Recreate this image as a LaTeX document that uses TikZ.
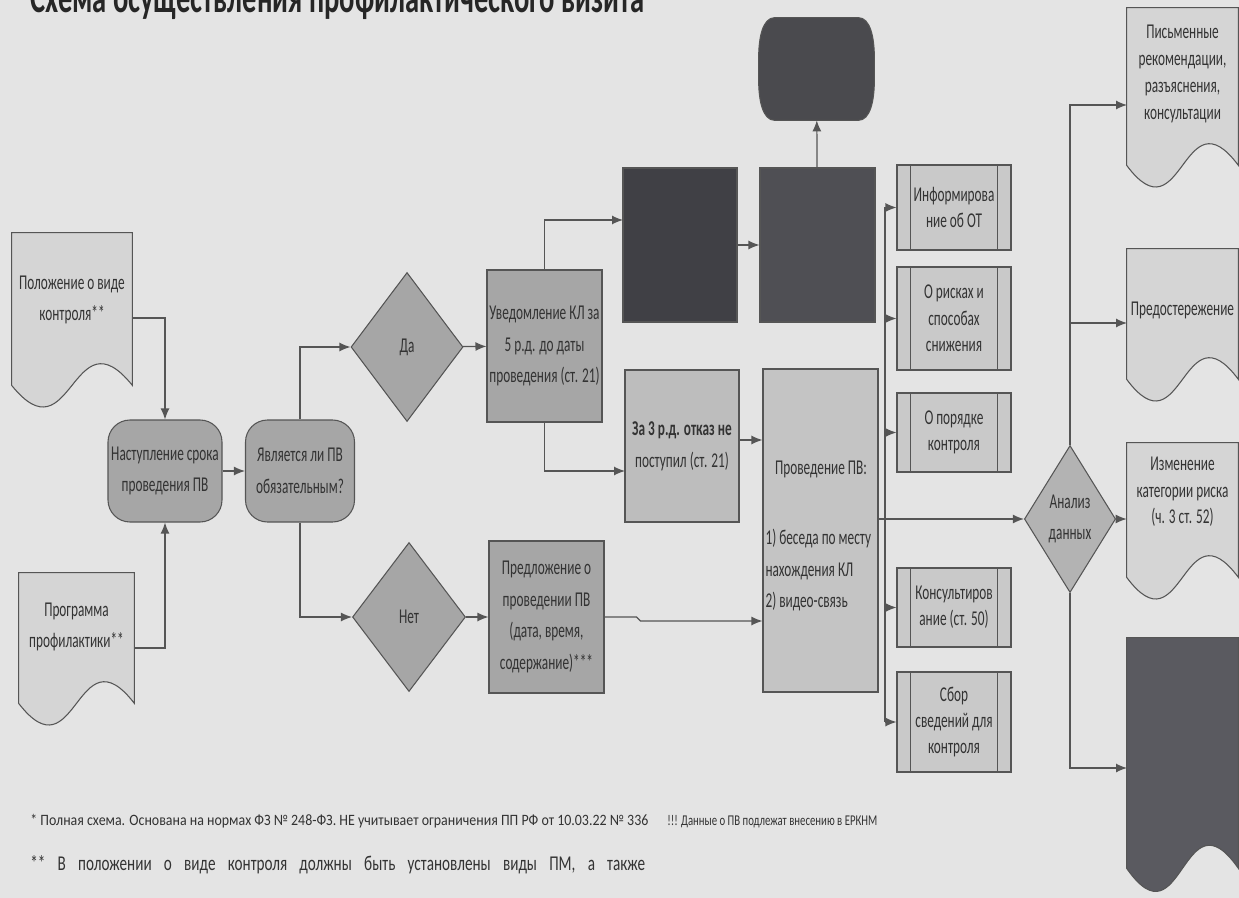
\documentclass[tikz,border=0pt]{standalone}
\usepackage{fontspec}
\setmainfont{Carlito}
\newfontfamily\bx{Carlito}[FakeStretch=0.63]
\newfontfamily\ttl{Carlito}[FakeStretch=0.65]
\newfontfamily\fnt{Carlito}[FakeStretch=0.88]
\newfontfamily\fntb{Carlito}[FakeStretch=0.72]
\usetikzlibrary{arrows.meta,calc,shapes.geometric}
\pgfdeclarelayer{back}
\pgfdeclarelayer{bg}
\pgfsetlayers{back,bg,main}
\definecolor{bgc}{HTML}{E4E4E4}
\definecolor{ln}{HTML}{555555}
\definecolor{docf}{HTML}{D5D5D5}
\definecolor{midf}{HTML}{A6A6A6}
\definecolor{lf}{HTML}{BDBDBD}
\definecolor{pvf}{HTML}{C4C4C4}
\definecolor{sf}{HTML}{C9C9C9}
\definecolor{dk}{HTML}{404045}
\definecolor{dkd}{HTML}{5A5A60}
\definecolor{txt}{HTML}{333333}
\newcommand\pxu{0.02cm}
\newcommand\docout[3]{%
  \begin{pgfonlayer}{bg}
  \path[draw=ln, line width=0.6pt, fill=#2] (#1.north west) -- (#1.north east) -- (#1.south east)
    .. controls ($(#1.south)+(0,-#3)$) and ($(#1.south)+(0,#3)$) .. (#1.south west) -- cycle;
  \end{pgfonlayer}}
\newcommand\barrel[2]{%
  \begin{pgfonlayer}{bg}
  \path[draw=ln, line width=0.6pt, fill=#2]
    ($(#1.north west)+(16,0)$) -- ($(#1.north east)+(-16,0)$)
    .. controls ($(#1.north east)+(-4,0)$) and ($(#1.north east)+(0,20)$) .. ($(#1.north east)+(0,40)$)
    -- ($(#1.south east)+(0,-40)$)
    .. controls ($(#1.south east)+(0,-20)$) and ($(#1.south east)+(-4,0)$) .. ($(#1.south east)+(-16,0)$)
    -- ($(#1.south west)+(16,0)$)
    .. controls ($(#1.south west)+(4,0)$) and ($(#1.south west)+(0,-20)$) .. ($(#1.south west)+(0,-40)$)
    -- ($(#1.north west)+(0,40)$)
    .. controls ($(#1.north west)+(0,20)$) and ($(#1.north west)+(4,0)$) .. cycle;
  \end{pgfonlayer}}
\newcommand\subp[1]{%
  \draw[ln, line width=0.5pt] ($(#1.north west)+(14,0)$) -- ($(#1.south west)+(14,0)$);
  \draw[ln, line width=0.5pt] ($(#1.north east)+(-14,0)$) -- ($(#1.south east)+(-14,0)$);}
\tikzset{
  base/.style={draw=ln, line width=0.6pt, text=txt, font=\bx\fontsize{12}{18}\selectfont, align=center, inner sep=1pt},
  term/.style={base, rectangle, rounded corners=0.44cm, fill=midf},
  proc/.style={base, rectangle},
  dia/.style={base, diamond, inner sep=0pt},
  docbox/.style={rectangle, draw=none, inner sep=0pt},
  dtext/.style={text=txt, font=\bx\fontsize{12}{18}\selectfont, align=center, inner sep=0pt},
  subbox/.style={proc, fill=sf, minimum width=114*\pxu, font=\bx\fontsize{12}{15}\selectfont},
  arr/.style={draw=ln, line width=0.7pt, -{Latex[length=2.2mm,width=1.8mm]}},
  conn/.style={draw=ln, line width=0.7pt}
}
\begin{document}
\begin{tikzpicture}[x=0.02cm, y=-0.02cm]
\begin{pgfonlayer}{back}
\fill[bgc] (0,0) rectangle (1239,898);
\end{pgfonlayer}
\useasboundingbox (0,0) rectangle (1239,898);

% title
\node[anchor=base west, inner sep=0pt, text=black!85, font=\ttl\bfseries\fontsize{25}{30}\selectfont] (title) at (30,13) {Схема осуществления профилактического визита};

% left documents
\node[docbox, minimum width=120*\pxu, minimum height=152*\pxu] (pol) at (72,309) {};
\docout{pol}{docf}{75}
\node[dtext] (pol-t) at (72,300) {Положение о виде\\контроля**};
\node[docbox, minimum width=115*\pxu, minimum height=130*\pxu] (prog) at (76.5,638) {};
\docout{prog}{docf}{75}
\node[dtext] (prog-t) at (76.5,627) {Программа\\профилактики**};

% terminators
\node[term, minimum width=114*\pxu, minimum height=102*\pxu] (nast) at (165,471) {Наступление срока\\проведения ПВ};
\node[term, minimum width=109*\pxu, minimum height=102*\pxu] (yavl) at (300,471) {Является ли ПВ\\обязательным?};

% diamonds
\node[dia, fill=midf, minimum width=112*\pxu, minimum height=149*\pxu] (da) at (407,347) {Да};
\node[dia, fill=midf, minimum width=113*\pxu, minimum height=149*\pxu] (net) at (409,617) {Нет};

% process boxes
\node[proc, fill=midf, minimum width=115*\pxu, minimum height=152*\pxu] (uved) at (544.5,346) {Уведомление КЛ за\\5 р.д. до даты\\проведения (ст. 21)};
\node[proc, fill=midf, minimum width=115*\pxu, minimum height=152*\pxu] (pred) at (546.5,617) {Предложение о\\проведении ПВ\\(дата, время,\\содержание)***};
\node[proc, fill=dk, minimum width=114*\pxu, minimum height=154*\pxu] (dark1) at (680,245) {};
\node[proc, fill=dk!92!white, minimum width=115*\pxu, minimum height=154*\pxu] (dark2) at (817.5,245) {};
\node[docbox, minimum width=115*\pxu, minimum height=102*\pxu] (darkT) at (816.5,69) {};
\barrel{darkT}{dk!95!white}
\node[proc, fill=lf, minimum width=114*\pxu, minimum height=152*\pxu] (za3) at (682,446) {{\bfseries За 3 р.д. отказ не}\\поступил (ст. 21)};
\node[proc, fill=pvf, minimum width=115*\pxu, minimum height=323*\pxu] (prov) at (820.5,530.5) {};
\node[dtext, text width=2.22cm, align=flush left] (prov-t) at (821,536)
  {\makebox[2.22cm]{Проведение ПВ:}\\[22pt]1) беседа по месту\\нахождения КЛ\\2) видео-связь};

% sub-process boxes
\node[subbox, minimum height=85*\pxu] (s1) at (954,207.5) {Информирова\\ние об ОТ};
\node[subbox, minimum height=103*\pxu] (s2) at (954,318.5) {О рисках и\\способах\\снижения};
\node[subbox, minimum height=79*\pxu] (s3) at (954,432.5) {О порядке\\контроля};
\node[subbox, minimum height=79*\pxu] (s4) at (954,607.5) {Консультиров\\ание (ст. 50)};
\node[subbox, minimum height=100*\pxu] (s5) at (954,722) {Сбор\\сведений для\\контроля};
\subp{s1}\subp{s2}\subp{s3}\subp{s4}\subp{s5}

% analysis diamond
\node[dia, fill=midf!85!white, minimum width=86*\pxu, minimum height=147*\pxu] (anal) at (1070,519) {Анализ\\данных};

% right documents
\node[docbox, minimum width=111*\pxu, minimum height=157*\pxu] (r1) at (1182.5,86.5) {};
\docout{r1}{docf}{75}
\node[dtext, font=\bx\fontsize{12}{15.5}\selectfont] (r1-t) at (1182.5,74) {Письменные\\рекомендации,\\разъяснения,\\консультации};
\node[docbox, minimum width=111*\pxu, minimum height=130*\pxu] (r2) at (1182.5,314) {};
\docout{r2}{docf}{75}
\node[dtext] (r2-t) at (1182.5,310) {Предостережение};
\node[docbox, minimum width=111*\pxu, minimum height=134*\pxu] (r3) at (1182.5,510) {};
\docout{r3}{docf}{75}
\node[dtext, font=\bx\fontsize{12}{15}\selectfont] (r3-t) at (1182.5,492) {Изменение\\категории риска\\(ч. 3 ст. 52)};
\node[docbox, minimum width=111*\pxu, minimum height=230*\pxu] (r4) at (1182.5,753) {};
\docout{r4}{dkd}{80}

% footnotes
\node[anchor=base west, inner sep=0pt, text=txt, font=\fnt\fontsize{9}{11}\selectfont] (fn1) at (30,825) {* Полная схема. Основана на нормах ФЗ № 248-ФЗ. НЕ учитывает ограничения ПП РФ от 10.03.22 № 336};
\node[anchor=base west, inner sep=0pt, text=txt, font=\fntb\fontsize{8.5}{11}\selectfont] (fn3) at (667,825) {!!! Данные о ПВ подлежат внесению в ЕРКНМ};
\node[anchor=base west, inner sep=0pt, text=txt, font=\fntb\fontsize{12}{14}\selectfont] (fn2) at (30,870) {\makebox[12.3cm][s]{** В положении о виде контроля должны быть установлены виды ПМ, а также}};

% coordinates for connector ends
\coordinate (d1in) at (623,220);
\coordinate (z3in) at (625,471);
\coordinate (r1in) at (1127,105);
\coordinate (r2in) at (1127,323);
\coordinate (r4in) at (1127,768);
\coordinate (bus) at (885,0);

% connectors
\draw[arr] ($(pol.east)+(0,9)$) -| (nast.north);
\draw[arr] ($(prog.east)+(0,10)$) -| (nast.south);
\draw[arr] (nast) -- (yavl);
\draw[arr] (yavl.north) |- (da.west);
\draw[arr] (yavl.south) |- (net.west);
\draw[arr] (da) -- (uved);
\draw[arr] (net) -- (pred);
\draw[arr] (uved.north) |- (d1in);
\draw[arr] (uved.south) |- (z3in);
\draw[arr] (dark1) -- (dark2);
\draw[arr] (dark2) -- (darkT);
\draw[arr] ($(za3.east)+(0,-6)$) -- ($(za3.east -| prov.west)+(0,-6)$);
\draw[arr] (pred.east) -- ++(32,0) -- ++(4,4) coordinate (pj) -- (pj -| prov.west);
\draw[conn] (s1.west -| bus) -- (s5.west -| bus);
\foreach \s in {s1,s2,s3,s4,s5} \draw[arr] (\s.west -| bus) -- (\s.west);
\draw[arr] (prov.east |- anal.west) -- (anal.west);
\draw[arr] (anal.north) |- (r1in);
\draw[arr] (anal.north) |- (r2in);
\draw[arr] (anal.east) -- (anal.east -| r3.west);
\draw[arr] (anal.south) |- (r4in);
\end{tikzpicture}
\end{document}
